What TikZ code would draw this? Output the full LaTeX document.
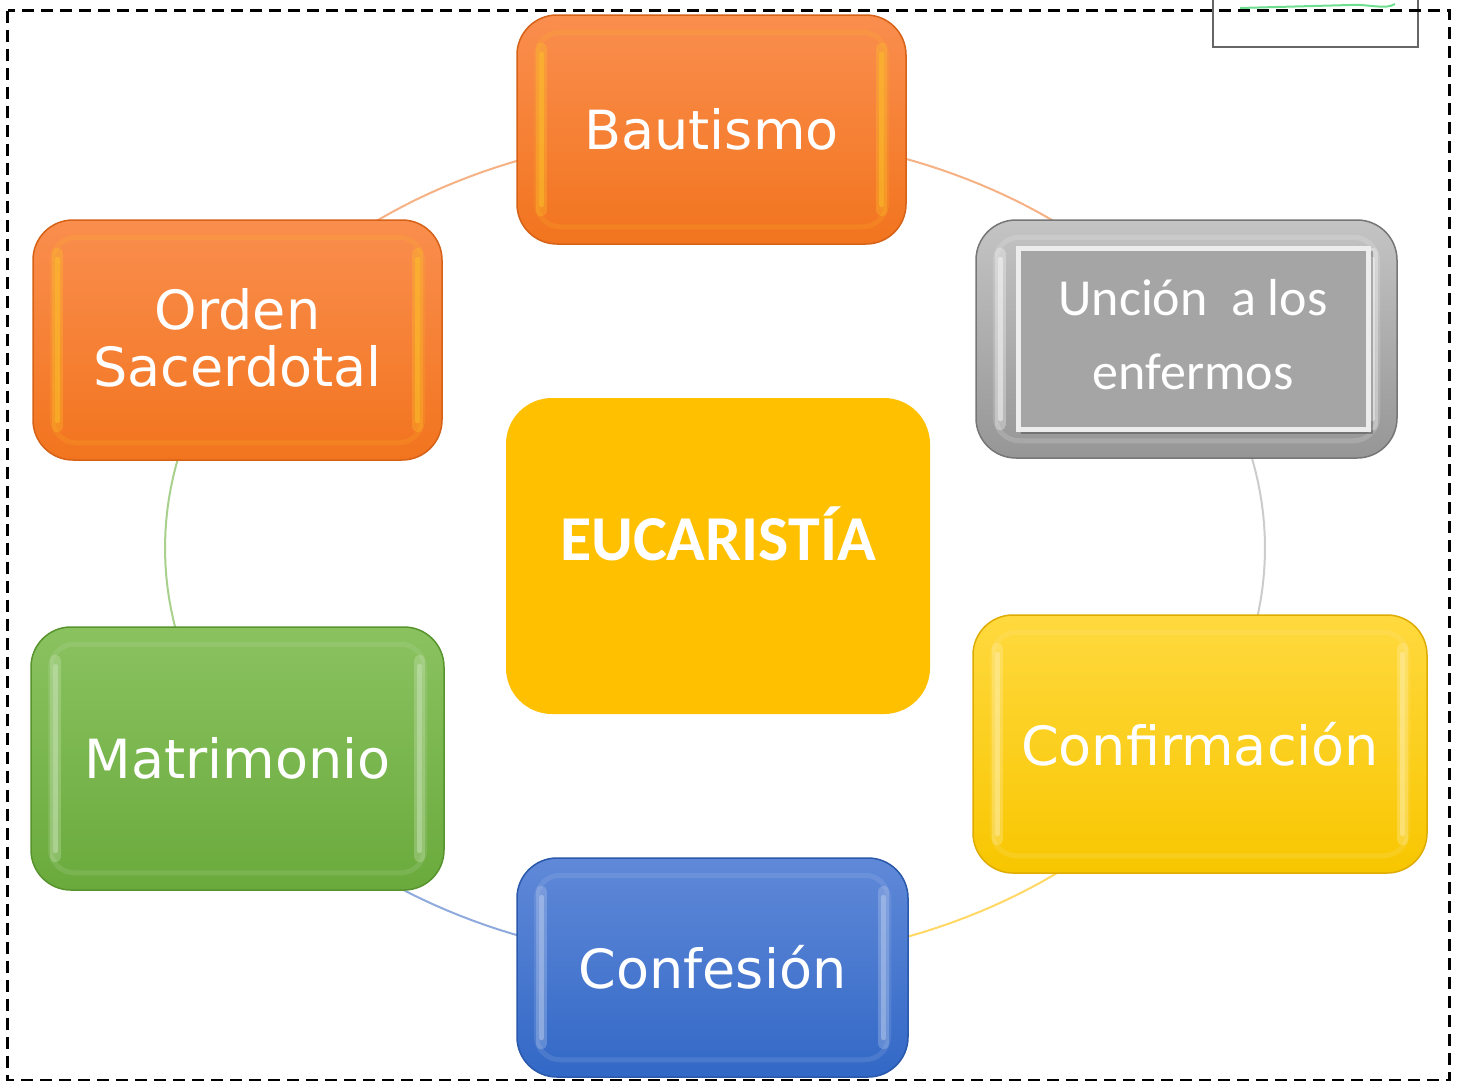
\documentclass[tikz,border=0pt]{standalone}
\usepackage{fontspec}
\setmainfont{DejaVu Sans}
\newfontfamily\calibri{Carlito}
\definecolor{orT}{RGB}{250,142,78}
\definecolor{orB}{RGB}{242,116,30}
\definecolor{orD}{RGB}{214,98,24}
\definecolor{yeT}{RGB}{255,217,62}
\definecolor{yeB}{RGB}{248,198,0}
\definecolor{yeD}{RGB}{222,172,0}
\definecolor{grT}{RGB}{138,194,96}
\definecolor{grB}{RGB}{106,170,60}
\definecolor{grD}{RGB}{88,148,46}
\definecolor{blT}{RGB}{96,137,216}
\definecolor{blB}{RGB}{50,104,198}
\definecolor{blD}{RGB}{42,88,170}
\definecolor{gyT}{RGB}{196,196,196}
\definecolor{gyB}{RGB}{150,150,150}
\definecolor{gyD}{RGB}{118,118,118}
\definecolor{gyIn}{RGB}{165,165,165}
\definecolor{eucCol}{RGB}{255,192,0}
\definecolor{ringOr}{RGB}{246,178,132}
\definecolor{ringGy}{RGB}{204,204,204}
\definecolor{ringYe}{RGB}{255,216,102}
\definecolor{ringBl}{RGB}{143,170,220}
\definecolor{ringGr}{RGB}{169,209,142}
\tikzset{
  sacbox/.style={rounded corners=40pt, line width=1.5pt, text=white, align=center,
    font=\fontsize{54}{57}\selectfont, inner sep=0pt},
  bevel/.style={line width=5pt, rounded corners=24pt, opacity=0.15},
  strip/.style={line width=11pt, line cap=round, opacity=0.3},
  stripcore/.style={line width=5pt, line cap=round, opacity=0.45},
  ring/.style={line width=2pt},
}
\begin{document}
\begin{tikzpicture}[x=1pt,y=-1pt]
\useasboundingbox (0,0) rectangle (1461,1082);
\fill[white] (0,0) rectangle (1461,1082);
% partial box top right
\draw[gray!80!black, line width=2pt] (1213,-6) -- (1213,47) -- (1418,47) -- (1418,-6);
\draw[green!55!teal!80, line width=2pt, opacity=.7] (1240,8) -- (1350,5) .. controls (1370,4) and (1385,10) .. (1395,4);
% ring
\draw[ring, ringOr] plot[domain=-88:-30, samples=40] ({715+550*cos(\x)},{548+415*sin(\x)});
\draw[ring, ringGy] plot[domain=-30:28, samples=40] ({715+550*cos(\x)},{548+415*sin(\x)});
\draw[ring, ringYe] plot[domain=28:90, samples=40] ({715+550*cos(\x)},{548+415*sin(\x)});
\draw[ring, ringBl] plot[domain=90:150, samples=40] ({715+550*cos(\x)},{548+415*sin(\x)});
\draw[ring, ringGr] plot[domain=150:210, samples=40] ({715+550*cos(\x)},{548+415*sin(\x)});
\draw[ring, ringOr] plot[domain=210:272, samples=40] ({715+550*cos(\x)},{548+415*sin(\x)});
% nodes
\node[sacbox, draw=orD, top color=orT, bottom color=orB, minimum width=389pt, minimum height=229pt] (bau) at (711.5,129.5) {Bautismo};
\node[sacbox, draw=orD, top color=orT, bottom color=orB, minimum width=409pt, minimum height=240pt] (ord) at (237.5,340) {\raisebox{6pt}{Orden}\\\raisebox{6pt}{Sacerdotal}};
\node[sacbox, draw=gyD, top color=gyT, bottom color=gyB, minimum width=421pt, minimum height=238pt] (unc) at (1186.5,339) {};
\node[sacbox, draw=yeD, top color=yeT, bottom color=yeB, minimum width=454pt, minimum height=258pt] (con) at (1200,744) {Confirmación};
\node[sacbox, draw=grD, top color=grT, bottom color=grB, minimum width=413pt, minimum height=263pt] (mat) at (237.5,758.5) {Matrimonio};
\node[sacbox, draw=blD, top color=blT, bottom color=blB, minimum width=391pt, minimum height=219pt] (cnf) at (712.5,967.5) {Confesión};
% bevel highlights
\foreach \n/\c in {bau/orT!50!yellow, ord/orT!50!yellow, con/yeT!40!white, mat/grT!40!white, cnf/blT!40!white, unc/white}{
  \draw[bevel, \c] ([shift={(20,18)}]\n.north west) rectangle ([shift={(-20,-18)}]\n.south east);
  \draw[strip, \c] ([shift={(25,34)}]\n.north west) -- ([shift={(25,-34)}]\n.south west);
  \draw[strip, \c] ([shift={(-25,34)}]\n.north east) -- ([shift={(-25,-34)}]\n.south east);
  \draw[stripcore, \c] ([shift={(25,40)}]\n.north west) -- ([shift={(25,-40)}]\n.south west);
  \draw[stripcore, \c] ([shift={(-25,40)}]\n.north east) -- ([shift={(-25,-40)}]\n.south east);
}
% uncion inner panel
\fill[black, opacity=.25] (1021,251) rectangle (1373,434);
\node[draw=white!93!black, line width=5pt, fill=gyIn, minimum width=350pt, minimum height=181pt, inner sep=0pt,
  text=white, align=center, font=\calibri\fontsize{52}{74}\selectfont] (uncin) at (1193,338.5) {\raisebox{8pt}{Unción~ a los}\\\raisebox{8pt}{enfermos}};
% center
\node[fill=eucCol, rounded corners=46pt, minimum width=424pt, minimum height=316pt, inner sep=0pt,
  text=white, font=\calibri\bfseries\fontsize{64}{70}\selectfont] (euc) at (718,556) {\raisebox{44pt}{EUCARISTÍA}};
% dashed frame
\draw[line width=2.8pt, dash pattern=on 12pt off 7pt] (7.5,10.5) rectangle (1449.5,1080);
\end{tikzpicture}
\end{document}
